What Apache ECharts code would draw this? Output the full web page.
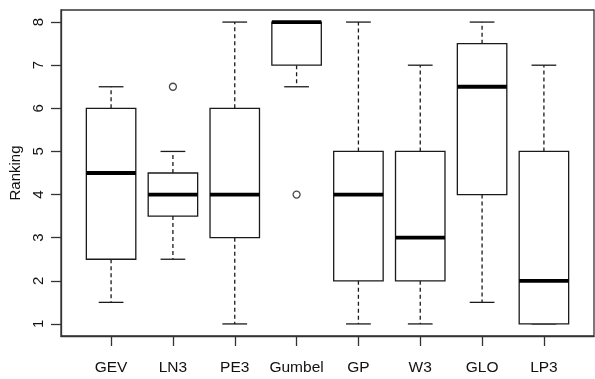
<!DOCTYPE html>
<html>
<head>
<meta charset="utf-8">
<script src="https://cdn.jsdelivr.net/npm/echarts@6/dist/echarts.min.js"></script>
<style>
  html, body { margin: 0; padding: 0; background: #fff; }
  #chart { width: 595px; height: 379px; }
</style>
</head>
<body>
<div id="chart"></div>
<script>
// Ranking of distributions: five-number summaries per distribution
const categories  = ['GEV', 'LN3', 'PE3', 'Gumbel', 'GP', 'W3', 'GLO', 'LP3'];
const whiskerLow  = [1.5, 2.5, 1, 6.5, 1, 1, 1.5, 1];
const lowerQuart  = [2.5, 3.5, 3, 7, 2, 2, 4, 1];
const medians     = [4.5, 4, 4, 8, 4, 3, 6.5, 2];
const upperQuart  = [6, 4.5, 6, 8, 5, 5, 7.5, 5];
const whiskerHigh = [6.5, 5, 8, 8, 8, 7, 8, 7];

// Points beyond the whiskers
const outlierCategory = ['LN3', 'Gumbel'];
const outlierValue    = [6.5, 4];

const yTicks = [1, 2, 3, 4, 5, 6, 7, 8];
const xTicks = categories.map((c, i) => i + 1);

const boxData = categories.map((c, i) => [
  i + 1, whiskerLow[i], lowerQuart[i], medians[i], upperQuart[i], whiskerHigh[i]
]);
const outlierData = outlierCategory.map((c, i) => [categories.indexOf(c) + 1, outlierValue[i]]);

const ink = '#1a1a1a';
const BOX_W = 0.8;   // box width in x units
const CAP_W = 0.4;   // whisker staple width in x units

function renderBox(params, api) {
  const x = api.value(0);
  const lo = api.value(1), q1 = api.value(2), md = api.value(3), q3 = api.value(4), hi = api.value(5);
  const halfBox = api.size([BOX_W, 0])[0] / 2;
  const halfCap = api.size([CAP_W, 0])[0] / 2;
  const pLo = api.coord([x, lo]), pQ1 = api.coord([x, q1]), pMd = api.coord([x, md]);
  const pQ3 = api.coord([x, q3]), pHi = api.coord([x, hi]);
  const cx = pMd[0];
  const thin = { stroke: ink, lineWidth: 1.3, fill: null };
  const dashed = { stroke: ink, lineWidth: 1.3, lineDash: [4, 3], fill: null };
  const children = [];
  if (hi > q3) {
    children.push({ type: 'line', shape: { x1: cx, y1: pQ3[1], x2: cx, y2: pHi[1] }, style: dashed });
  }
  if (lo < q1) {
    children.push({ type: 'line', shape: { x1: cx, y1: pQ1[1], x2: cx, y2: pLo[1] }, style: dashed });
  }
  children.push({ type: 'line', shape: { x1: cx - halfCap, y1: pHi[1], x2: cx + halfCap, y2: pHi[1] }, style: thin });
  children.push({ type: 'line', shape: { x1: cx - halfCap, y1: pLo[1], x2: cx + halfCap, y2: pLo[1] }, style: thin });
  children.push({
    type: 'rect',
    shape: { x: cx - halfBox, y: pQ3[1], width: 2 * halfBox, height: pQ1[1] - pQ3[1] },
    style: { stroke: ink, lineWidth: 1.3, fill: '#fff' }
  });
  children.push({
    type: 'line',
    shape: { x1: cx - halfBox, y1: pMd[1], x2: cx + halfBox, y2: pMd[1] },
    style: { stroke: '#000', lineWidth: 3.8 }
  });
  return { type: 'group', children };
}

const chart = echarts.init(document.getElementById('chart'), null, { renderer: 'canvas' });
chart.setOption({
  animation: false,
  backgroundColor: '#fff',
  textStyle: { fontFamily: 'Liberation Sans, Arial, sans-serif' },
  grid: {
    left: 61, right: 1, top: 10, bottom: 43,
    show: true, borderColor: '#333', borderWidth: 1.3, backgroundColor: 'transparent'
  },
  xAxis: {
    type: 'value',
    min: 0.19, max: 8.81,
    splitLine: { show: false },
    axisLine: { show: true, lineStyle: { color: '#333', width: 1.3 } },
    axisTick: { show: true, length: 10, customValues: xTicks, lineStyle: { color: '#333', width: 1.3 } },
    axisLabel: {
      customValues: xTicks,
      formatter: v => categories[Math.round(v) - 1] || '',
      color: '#111', fontSize: 15.5, margin: 24
    }
  },
  yAxis: {
    type: 'value',
    min: 0.72, max: 8.28,
    name: 'Ranking',
    nameLocation: 'middle',
    nameGap: 38,
    nameTextStyle: { color: '#111', fontSize: 15 },
    splitLine: { show: false },
    axisLine: { show: true, lineStyle: { color: '#333', width: 1.3 } },
    axisTick: { show: true, length: 10, customValues: yTicks, lineStyle: { color: '#333', width: 1.3 } },
    axisLabel: {
      customValues: yTicks,
      rotate: 90,
      color: '#111', fontSize: 15, margin: 15
    }
  },
  series: [
    {
      type: 'custom',
      renderItem: renderBox,
      data: boxData,
      encode: { x: 0, y: [1, 2, 3, 4, 5] },
      clip: false
    },
    {
      type: 'scatter',
      data: outlierData,
      symbol: 'circle',
      symbolSize: 7,
      itemStyle: { color: '#fff', borderColor: ink, borderWidth: 1.3 }
    }
  ]
});
</script>
</body>
</html>
